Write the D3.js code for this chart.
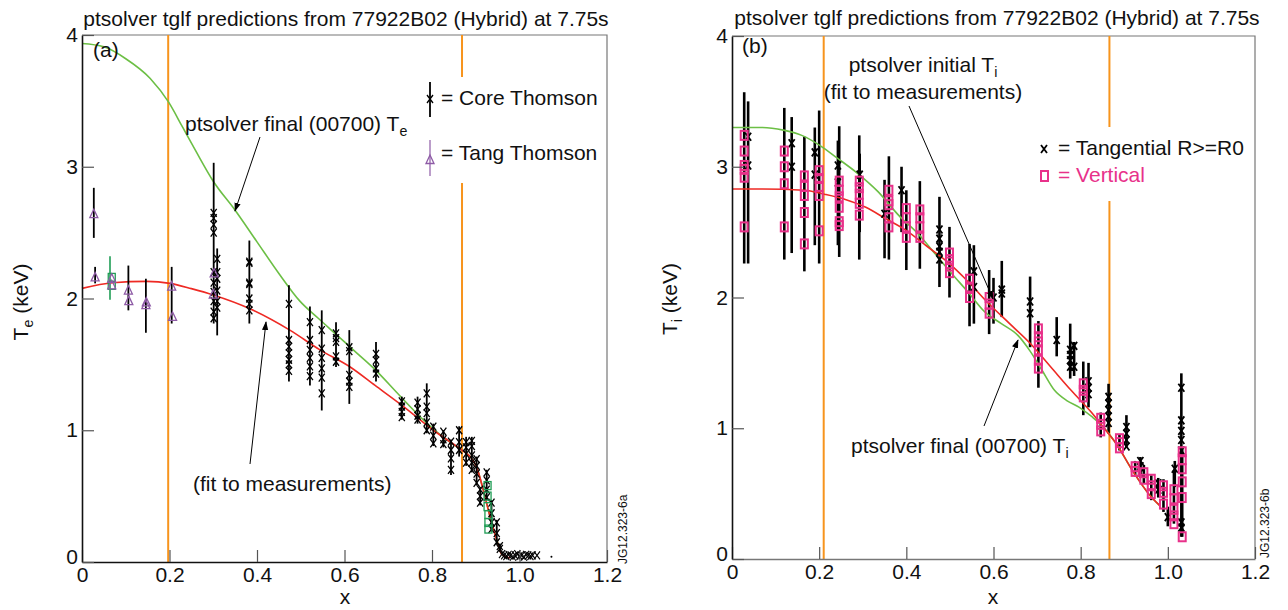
<!DOCTYPE html>
<html><head><meta charset="utf-8">
<script src="https://cdn.jsdelivr.net/npm/d3@7"></script>
<style>
body { margin: 0; background: #fff; }
svg { font-family: "Liberation Sans", Arial, Helvetica, sans-serif; }
</style></head>
<body><div id="chart"></div>
<script>
// ---------- data ----------
let xTicks = [0, 0.2, 0.4, 0.6, 0.8, 1.0, 1.2]
let xTickLabels = ["0", "0.2", "0.4", "0.6", "0.8", "1.0", "1.2"]
let yTicks = [0, 1, 2, 3, 4]
let yTickLabels = ["0", "1", "2", "3", "4"]
let title = "ptsolver tglf predictions from 77922B02 (Hybrid) at 7.75s"

// (a) electron temperature
let teFinalX = [0, 0.05, 0.1, 0.156, 0.198, 0.23, 0.26, 0.3, 0.35, 0.4, 0.45, 0.498, 0.54, 0.58, 0.62, 0.67, 0.727, 0.78, 0.841, 0.868, 0.887, 0.902, 0.917, 0.933, 0.948, 0.959, 0.975]
let teFinal = [3.935, 3.91, 3.82, 3.67, 3.49, 3.30, 3.12, 2.89, 2.67, 2.43, 2.19, 1.98, 1.85, 1.73, 1.61, 1.46, 1.26, 1.08, 0.91, 0.85, 0.80, 0.72, 0.55, 0.34, 0.17, 0.06, 0.03]
let teFitX = [0, 0.07, 0.148, 0.201, 0.25, 0.3, 0.384, 0.475, 0.544, 0.613, 0.67, 0.727, 0.803, 0.868, 0.887, 0.902, 0.917, 0.933, 0.948, 0.959, 0.978]
let teFit = [2.077, 2.12, 2.13, 2.115, 2.075, 2.027, 1.922, 1.76, 1.61, 1.48, 1.34, 1.20, 1.0, 0.85, 0.80, 0.72, 0.55, 0.34, 0.167, 0.06, 0.03]
let teOrange = [0.197, 0.8686]

// core Thomson: group x, error bar [lo, hi], measured values
let coreX = [0.301, 0.309, 0.3825, 0.473, 0.521, 0.548, 0.5806, 0.611, 0.672, 0.731, 0.767, 0.788, 0.803, 0.826, 0.8434, 0.862, 0.878, 0.891, 0.902, 0.91, 0.925, 0.936, 0.948, 0.955]
let coreBar = [[1.81, 3.03], [1.72, 2.38], [1.81, 2.44], [1.37, 2.1], [1.34, 1.94], [1.15, 1.91], [1.48, 1.82], [1.2, 1.76], [1.37, 1.67], [1.08, 1.255], [1.05, 1.255], [0.977, 1.356], [0.88, 1.05], [0.87, 1.0], [0.66, 0.93], [0.8, 1.03], [0.73, 0.95], [0.68, 0.95], [0.58, 0.8], [0.43, 0.57], [0.47, 0.7], [0.23, 0.47], [0.13, 0.32], [0.08, 0.14]]
let coreY = [
  [2.65, 2.61, 2.56, 2.5, 2.2, 2.12, 2.05, 1.98, 1.9, 1.85],
  [2.3, 2.2, 2.15, 2.06, 1.98, 1.93],
  [2.28, 2.27, 2.12, 2.11, 2.0, 1.96, 1.91],
  [1.96, 1.685, 1.635, 1.585, 1.535, 1.5, 1.45],
  [1.82, 1.685, 1.61, 1.55, 1.485, 1.41],
  [1.76, 1.62, 1.55, 1.47, 1.40, 1.28],
  [1.735, 1.70, 1.67, 1.56, 1.52],
  [1.63, 1.60, 1.42, 1.37, 1.33],
  [1.58, 1.53, 1.47, 1.43],
  [1.22, 1.18, 1.14, 1.10],
  [1.21, 1.16, 1.11, 1.08],
  [1.28, 1.18, 1.13, 1.06, 1.0],
  [1.027, 0.96, 0.90],
  [0.99, 0.93, 0.895],
  [0.913, 0.85, 0.787, 0.70],
  [1.0, 0.91, 0.85],
  [0.91, 0.87, 0.82, 0.755],
  [0.92, 0.88, 0.81, 0.755, 0.70],
  [0.78, 0.73, 0.67, 0.60],
  [0.55, 0.50, 0.45],
  [0.68, 0.62, 0.55, 0.49],
  [0.45, 0.37, 0.30, 0.25],
  [0.30, 0.22, 0.15],
  [0.12, 0.10]
]
// scrape-off points beyond the separatrix
let solX = [0.96, 0.965, 0.97, 0.975, 0.98, 0.985, 0.99, 0.995, 1.0, 1.005, 1.01, 1.015, 1.02, 1.025, 1.03, 1.04]
let solY = [0.06, 0.05, 0.045, 0.055, 0.05, 0.04, 0.05, 0.06, 0.045, 0.05, 0.04, 0.055, 0.05, 0.045, 0.05, 0.05]
let tailX = [1.073]
let tailY = [0.04]

// tangential Thomson (triangles)
let tangX = [0.027, 0.03, 0.068, 0.068, 0.106, 0.107, 0.146, 0.147, 0.205, 0.207, 0.302, 0.30]
let tangY = [2.64, 2.16, 2.15, 2.10, 2.06, 1.98, 1.95, 1.97, 2.09, 1.86, 2.19, 2.03]
let tangBarX = [0.027, 0.03, 0.106, 0.146, 0.205]
let tangBar = [[2.46, 2.84], [2.115, 2.24], [1.91, 2.25], [1.74, 2.15], [1.81, 2.24]]

// other channel (green squares)
let greenX = [0.068, 0.068, 0.927, 0.927, 0.927, 0.929, 0.929, 0.929]
let greenY = [2.16, 2.10, 0.58, 0.50, 0.42, 0.36, 0.30, 0.25]
let greenBarX = [0.064]
let greenBar = [[1.99, 2.32]]

// (b) ion temperature
let tiFinalX = [0, 0.07, 0.118, 0.16, 0.203, 0.24, 0.288, 0.335, 0.382, 0.429, 0.467, 0.505, 0.542, 0.58, 0.618, 0.656, 0.684, 0.712, 0.74, 0.769, 0.797, 0.825, 0.846, 0.882, 0.92, 0.958, 0.981]
let tiFinal = [3.30, 3.30, 3.28, 3.24, 3.16, 3.07, 2.95, 2.81, 2.63, 2.48, 2.33, 2.18, 2.04, 1.89, 1.80, 1.71, 1.59, 1.44, 1.29, 1.21, 1.16, 1.09, 1.03, 0.88, 0.67, 0.49, 0.41]
let tiFitX = [0, 0.07, 0.165, 0.212, 0.26, 0.307, 0.354, 0.401, 0.448, 0.495, 0.542, 0.59, 0.637, 0.684, 0.731, 0.778, 0.825, 0.854, 0.882, 0.92, 0.958, 0.981]
let tiFit = [2.83, 2.83, 2.82, 2.79, 2.75, 2.69, 2.60, 2.51, 2.39, 2.27, 2.12, 1.95, 1.80, 1.65, 1.47, 1.29, 1.12, 1.00, 0.88, 0.67, 0.49, 0.41]
let tiOrange = [0.2104, 0.866]

// vertical CXRS (magenta squares)
let vertX = [0.028, 0.12, 0.166, 0.2, 0.246, 0.292, 0.36, 0.40, 0.431, 0.499, 0.545, 0.59, 0.703, 0.806, 0.846, 0.889, 0.925, 0.945, 0.962, 0.99, 1.014, 1.033]
let vertBar = [[2.26, 3.57], [2.29, 3.45], [2.20, 3.23], [2.26, 3.43], [2.31, 3.31], [2.29, 3.24], [2.29, 3.08], [2.21, 2.82], [2.22, 2.89], [2.0, 2.54], [1.78, 2.41], [1.72, 2.21], [1.31, 1.82], [1.10, 1.51], [0.93, 1.12], [0.83, 0.95], [0.63, 0.75], [0.58, 0.72], [0.45, 0.64], [0.36, 0.61], [0.27, 0.68], [0.17, 0.85]]
let vertY = [
  [3.24, 3.12, 3.01, 2.98, 2.92, 2.54],
  [3.12, 3.0, 2.87, 2.54],
  [2.93, 2.85, 2.78, 2.65, 2.41],
  [2.97, 2.91, 2.85, 2.78, 2.51],
  [2.89, 2.82, 2.77, 2.69, 2.58, 2.55],
  [2.89, 2.84, 2.79, 2.72, 2.63],
  [2.82, 2.74, 2.71, 2.61, 2.54],
  [2.68, 2.61, 2.54, 2.46],
  [2.67, 2.61, 2.54, 2.46],
  [2.34, 2.29, 2.24, 2.19],
  [2.14, 2.08, 2.0],
  [2.0, 1.95, 1.88],
  [1.76, 1.70, 1.66, 1.60, 1.52, 1.46],
  [1.34, 1.29, 1.24],
  [1.076, 1.03, 0.98],
  [0.92, 0.89, 0.85],
  [0.706, 0.67],
  [0.66, 0.61],
  [0.61, 0.56, 0.50],
  [0.56, 0.51, 0.42],
  [0.53, 0.46, 0.38, 0.33, 0.27],
  [0.82, 0.76, 0.69, 0.59, 0.47, 0.17]
]

// tangential CXRS R>=R0 (black crosses)
let tanX = [0.037, 0.137, 0.19, 0.243, 0.293, 0.35, 0.389, 0.476, 0.555, 0.6, 0.619, 0.684, 0.745, 0.776, 0.785, 0.818, 0.864, 0.905, 0.937, 0.978, 1.0, 1.016, 1.031]
let tanBar = [[2.26, 3.5], [2.34, 3.38], [2.4, 3.3], [2.4, 3.2], [2.5, 3.1], [2.3, 2.9], [2.5, 3.0], [2.08, 2.77], [1.8, 2.4], [1.8, 2.15], [1.85, 2.28], [1.62, 2.16], [1.55, 1.85], [1.38, 1.8], [1.4, 1.66], [1.16, 1.5], [0.96, 1.34], [0.85, 1.1], [0.62, 0.78], [0.47, 0.62], [0.25, 0.4], [0.55, 0.75], [0.17, 1.42]]
let tanY = [
  [3.23, 3.01], [3.18, 3.0], [3.11, 2.94], [3.01, 2.88], [2.94], [2.64], [2.82],
  [2.52, 2.45, 2.39, 2.35, 2.29], [2.2, 2.08], [2.0], [2.06, 2.03], [1.97, 1.88],
  [1.675], [1.6, 1.56, 1.52, 1.47], [1.63, 1.47], [1.36, 1.31, 1.26],
  [1.24, 1.19, 1.14, 1.09, 1.04], [1.01, 0.96, 0.91, 0.86], [0.75, 0.71, 0.66],
  [0.58, 0.53], [0.32], [0.69], [1.31, 1.06, 0.98, 0.91, 0.83, 0.28, 0.24]
]

// ---------- drawing ----------
let W = 1288, H = 610
let svg = d3.select("#chart").append("svg").attr("width", W).attr("height", H)

svg.append("defs").append("marker")
  .attr("id", "arrow").attr("viewBox", "0 0 10 10").attr("refX", 9).attr("refY", 5)
  .attr("markerWidth", 9).attr("markerHeight", 9).attr("orient", "auto-start-reverse")
  .attr("markerUnits", "userSpaceOnUse")
  .append("path").attr("d", "M0,1.5L10,5L0,8.5Z").attr("fill", "#000")

let crossPath = "M-3,-4L3,4M-3,4L3,-4"
let triPath = "M0,-5L4,3.5L-4,3.5Z"

let makeScales = p => ({
  x: d3.scaleLinear().domain([0, 1.2]).range([p.left, p.right]),
  y: d3.scaleLinear().domain([0, 4]).range([p.bottom, p.top])
})

let drawFrame = function(p) {
  svg.append("path")
    .attr("d", `M${p.left},${p.top}H${p.right}V${p.bottom}`)
    .attr("fill", "none").attr("stroke", "#777").attr("stroke-width", 1.2)
}

let drawAxes = function(p, s, bottomColor) {
  let xAxis = d3.axisBottom(s.x).tickValues(xTicks).tickFormat((d, i) => xTickLabels[i])
    .tickSizeInner(-12).tickSizeOuter(0).tickPadding(5)
  let yAxis = d3.axisLeft(s.y).tickValues(yTicks).tickFormat((d, i) => yTickLabels[i])
    .tickSizeInner(-12).tickSizeOuter(0).tickPadding(4)
  let gx = svg.append("g").attr("transform", `translate(0,${p.bottom})`).call(xAxis)
  let gy = svg.append("g").attr("transform", `translate(${p.left},0)`).call(yAxis)
  for (let g of [gx, gy]) {
    g.attr("font-family", null).attr("font-size", 21)
    g.selectAll(".tick line").attr("stroke", "#555").attr("stroke-width", 1.2)
    g.selectAll(".tick text").attr("fill", "#111")
  }
  gx.select(".domain").attr("stroke", bottomColor).attr("stroke-width", 1.6)
  gy.select(".domain").attr("stroke", "#111").attr("stroke-width", 1.6)
  gy.selectAll(".tick text").filter(d => d === 0).attr("dy", "0.06em")
}

let drawLine = function(s, xs, ys, color) {
  svg.append("path")
    .datum(xs.map((d, i) => [d, ys[i]]))
    .attr("d", d3.line().x(d => s.x(d[0])).y(d => s.y(d[1])).curve(d3.curveMonotoneX))
    .attr("fill", "none").attr("stroke", color).attr("stroke-width", 1.6)
}

let drawBars = function(s, xs, bars, width, color) {
  svg.append("g").selectAll("line").data(xs).enter().append("line")
    .attr("x1", d => s.x(d)).attr("x2", d => s.x(d))
    .attr("y1", (d, i) => s.y(bars[i][0])).attr("y2", (d, i) => s.y(bars[i][1]))
    .attr("stroke", color).attr("stroke-width", width)
}

let flatPoints = (xs, groups) => xs.flatMap((d, i) => groups[i].map(v => [d, v]))

let drawCrosses = function(s, pts, width) {
  svg.append("g").selectAll("path").data(pts).enter().append("path")
    .attr("d", crossPath)
    .attr("transform", d => `translate(${s.x(d[0])},${s.y(d[1])})`)
    .attr("fill", "none").attr("stroke", "#000").attr("stroke-width", width)
}

let addText = function(x, y, main, sub, opts) {
  opts = opts || {}
  let t = svg.append("text").attr("x", x).attr("y", y)
    .attr("font-size", opts.size || 21).attr("fill", opts.color || "#111")
    .attr("text-anchor", opts.anchor || "start")
  if (opts.rotate) t.attr("transform", `rotate(-90,${x},${y})`)
  t.append("tspan").text(main)
  if (sub) {
    t.append("tspan").text(sub).attr("font-size", (opts.size || 21) * 0.68).attr("dy", 5)
    if (opts.after) t.append("tspan").text(opts.after).attr("dy", -5)
  }
  return t
}

let drawArrow = function(x1, y1, x2, y2) {
  svg.append("line").attr("x1", x1).attr("y1", y1).attr("x2", x2).attr("y2", y2)
    .attr("stroke", "#000").attr("stroke-width", 1).attr("marker-end", "url(#arrow)")
}

let drawOrange = function(p, s, xs) {
  svg.append("g").selectAll("line").data(xs).enter().append("line")
    .attr("x1", d => s.x(d)).attr("x2", d => s.x(d))
    .attr("y1", p.top).attr("y2", p.bottom)
    .attr("stroke", "#f7941d").attr("stroke-width", 2)
}

// ---------- panel (a) ----------
let pa = { left: 82, right: 607, top: 35, bottom: 562 }
let sa = makeScales(pa)
drawFrame(pa)
drawOrange(pa, sa, teOrange)
// legend box hides the orange line
svg.append("rect").attr("x", 424).attr("y", 77).attr("width", 180).attr("height", 106).attr("fill", "#fff")

drawLine(sa, teFinalX, teFinal, "#6cbf45")
drawLine(sa, teFitX, teFit, "#ee2a24")

drawBars(sa, coreX, coreBar, 1.8, "#000")
drawCrosses(sa, flatPoints(coreX, coreY), 1.3)
drawCrosses(sa, solX.map((d, i) => [d, solY[i]]), 1.1)
svg.append("g").selectAll("circle").data(tailX).enter().append("circle")
  .attr("cx", d => sa.x(d)).attr("cy", (d, i) => sa.y(tailY[i])).attr("r", 1).attr("fill", "#000")

drawBars(sa, greenBarX, greenBar, 1.6, "#1f9d55")
svg.append("g").selectAll("rect").data(greenX).enter().append("rect")
  .attr("x", d => sa.x(d) - 3.5).attr("y", (d, i) => sa.y(greenY[i]) - 4)
  .attr("width", 7).attr("height", 8).attr("fill", "none").attr("stroke", "#1f9d55").attr("stroke-width", 1.3)

drawBars(sa, tangBarX, tangBar, 1.8, "#000")
svg.append("g").selectAll("path").data(tangX).enter().append("path")
  .attr("d", triPath)
  .attr("transform", (d, i) => `translate(${sa.x(d)},${sa.y(tangY[i])})`)
  .attr("fill", "none").attr("stroke", "#8e5ba6").attr("stroke-width", 1.3)

drawAxes(pa, sa, "#111")

// legend (a)
svg.append("line").attr("x1", 430).attr("x2", 430).attr("y1", 82).attr("y2", 117).attr("stroke", "#000").attr("stroke-width", 1.8)
svg.append("path").attr("d", crossPath).attr("transform", "translate(430,99)").attr("fill", "none").attr("stroke", "#000").attr("stroke-width", 1.3)
svg.append("line").attr("x1", 430).attr("x2", 430).attr("y1", 140).attr("y2", 176).attr("stroke", "#8e5ba6").attr("stroke-width", 1.2)
svg.append("path").attr("d", triPath).attr("transform", "translate(430,160)").attr("fill", "none").attr("stroke", "#8e5ba6").attr("stroke-width", 1.3)
addText(441, 105, "= Core Thomson")
addText(441, 160, "= Tang Thomson")

addText(346, 26, title, null, { anchor: "middle" })
addText(93, 57, "(a)")
addText(185, 131, "ptsolver final (00700) T", "e")
drawArrow(260, 137, 235, 211)
addText(193, 491, "(fit to measurements)")
drawArrow(250, 464, 266, 322)
addText(345, 604, "x", null, { anchor: "middle" })
addText(28, 302, "T", "e", { anchor: "middle", rotate: true, after: " (keV)" })
addText(627, 564, "JG12.323-6a", null, { size: 12, rotate: true })

// ---------- panel (b) ----------
let pb = { left: 732, right: 1255, top: 36, bottom: 559 }
let sb = makeScales(pb)
drawFrame(pb)
drawOrange(pb, sb, tiOrange)
svg.append("rect").attr("x", 1036).attr("y", 127).attr("width", 218).attr("height", 74).attr("fill", "#fff")

drawBars(sb, tanX, tanBar, 2.6, "#000")
drawBars(sb, vertX, vertBar, 2.6, "#000")
drawLine(sb, tiFinalX, tiFinal, "#6cbf45")
drawLine(sb, tiFitX, tiFit, "#ee2a24")
drawCrosses(sb, flatPoints(tanX, tanY), 1.8)
svg.append("g").selectAll("rect").data(flatPoints(vertX, vertY)).enter().append("rect")
  .attr("x", d => sb.x(d[0]) - 3.5).attr("y", d => sb.y(d[1]) - 4.5)
  .attr("width", 7).attr("height", 9).attr("fill", "none").attr("stroke", "#e8318a").attr("stroke-width", 2)

drawAxes(pb, sb, "#777")

// legend (b)
svg.append("path").attr("d", crossPath).attr("transform", "translate(1044,149)").attr("fill", "none").attr("stroke", "#000").attr("stroke-width", 1.8)
svg.append("rect").attr("x", 1041).attr("y", 171).attr("width", 7).attr("height", 10).attr("fill", "none").attr("stroke", "#e8318a").attr("stroke-width", 2)
addText(1058, 155, "= Tangential R>=R0", null, { size: 21 })
addText(1058, 182, "= Vertical", null, { size: 21, color: "#e8318a" })

addText(997, 25, title, null, { anchor: "middle" })
addText(742, 53, "(b)")
addText(923, 72, "ptsolver initial T", "i", { anchor: "middle" })
addText(923, 99, "(fit to measurements)", null, { anchor: "middle" })
drawArrow(909, 106, 993, 299)
addText(851, 453, "ptsolver final (00700) T", "i")
drawArrow(984, 426, 1018, 340)
addText(993, 604, "x", null, { anchor: "middle" })
addText(677, 299, "T", "i", { anchor: "middle", rotate: true, after: " (keV)" })
addText(1269, 558, "JG12.323-6b", null, { size: 12, rotate: true })
</script>
</body></html>
